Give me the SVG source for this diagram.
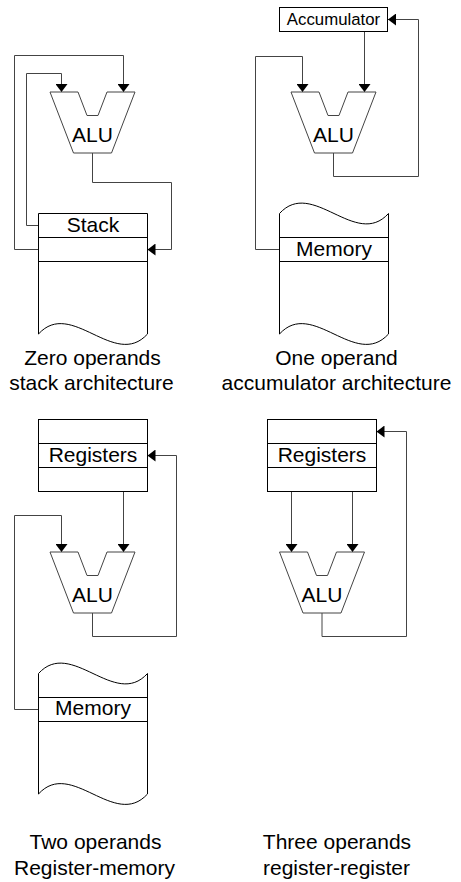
<svg xmlns="http://www.w3.org/2000/svg" width="461" height="882" viewBox="0 0 461 882">
<style>
.box{fill:#fff;stroke:#000;stroke-width:1}
.alu{fill:#fff;stroke:#444;stroke-width:1}
.band{stroke:#000;stroke-width:1;fill:none}
.conn{fill:none;stroke:#444;stroke-width:1}
.lbl{font-family:"Liberation Sans",Arial,sans-serif;font-size:21px;fill:#000;text-anchor:middle}
.acc{font-size:16.8px}
</style>
<defs>
<marker id="arr" viewBox="0 0 8 12" refX="8" refY="6" markerWidth="8" markerHeight="12" markerUnits="userSpaceOnUse" orient="auto">
<path d="M0,0 L8,6 L0,12 Z" fill="#000"/>
</marker>
<path id="aluShape" d="M0,0 H28 L37,23.5 H48 L57,0 H85 L61.5,61 H23.5 Z"/>
</defs>

<g id="connectors" class="conn" marker-end="url(#arr)">
<path d="M38.5,225.5 H26.5 V73.5 H61.5 V92"/>
<path d="M38.5,249.5 H14.5 V55.5 H123.5 V92"/>
<path d="M92.5,153 V182.5 H171.5 V249.5 H147.5"/>
<path d="M364.5,31.5 V92"/>
<path d="M279.5,249.5 H255.5 V56.5 H302.5 V92"/>
<path d="M333.5,153 V176.5 H418.5 V19.5 H388"/>
<path d="M123.5,467.5 V552"/>
<path d="M38.5,709.5 H14.5 V515.5 H61.5 V552"/>
<path d="M92.5,613 V636.5 H176.5 V455.5 H147.5"/>
<path d="M291.5,491.5 V552"/>
<path d="M352.5,467.5 V552"/>
<path d="M322,613 V636.5 H406.5 V431.5 H376.5"/>
</g>

<g id="stack">
<path class="box" d="M38.5,213.5 H147.5 V334 C114.8,370 71.2,298 38.5,334 Z"/>
<path class="band" d="M38.5,237.5 H147.5 M38.5,261.5 H147.5"/>
<text class="lbl" x="93" y="232">Stack</text>
</g>
<g id="alu1">
<use href="#aluShape" class="alu" transform="translate(50,92)"/>
<text class="lbl" x="92.5" y="142">ALU</text>
</g>

<g id="accumulator">
<rect class="box" x="279.5" y="7.5" width="108" height="24"/>
<text class="lbl acc" x="333.5" y="25">Accumulator</text>
</g>
<g id="alu2">
<use href="#aluShape" class="alu" transform="translate(291,92)"/>
<text class="lbl" x="333.5" y="142">ALU</text>
</g>
<g id="memory1">
<path class="box" d="M279.5,213.5 C312.2,177.5 355.8,249.5 388.5,213.5 V334 C355.8,370 312.2,298 279.5,334 Z"/>
<path class="band" d="M279.5,237.5 H388.5 M279.5,261.5 H388.5"/>
<text class="lbl" x="334" y="256">Memory</text>
</g>

<g id="registers1">
<rect class="box" x="38.5" y="419.5" width="109" height="72"/>
<path class="band" d="M38.5,443.5 H147.5 M38.5,467.5 H147.5"/>
<text class="lbl" x="93" y="462">Registers</text>
</g>
<g id="alu3">
<use href="#aluShape" class="alu" transform="translate(50,552)"/>
<text class="lbl" x="92.5" y="602">ALU</text>
</g>
<g id="memory2">
<path class="box" d="M38.5,673.5 C71.2,637.5 114.8,709.5 147.5,673.5 V794 C114.8,830 71.2,758 38.5,794 Z"/>
<path class="band" d="M38.5,697.5 H147.5 M38.5,721.5 H147.5"/>
<text class="lbl" x="93" y="715">Memory</text>
</g>

<g id="registers2">
<rect class="box" x="267.5" y="419.5" width="109" height="72"/>
<path class="band" d="M267.5,443.5 H376.5 M267.5,467.5 H376.5"/>
<text class="lbl" x="322" y="462">Registers</text>
</g>
<g id="alu4">
<use href="#aluShape" class="alu" transform="translate(279.5,552)"/>
<text class="lbl" x="322" y="602">ALU</text>
</g>

<g id="captions">
<text class="lbl" x="92.5" y="365">Zero operands</text>
<text class="lbl" x="91.5" y="390">stack architecture</text>
<text class="lbl" x="336.5" y="365">One operand</text>
<text class="lbl" x="336.5" y="390">accumulator architecture</text>
<text class="lbl" x="95.5" y="849">Two operands</text>
<text class="lbl" x="94.5" y="875">Register-memory</text>
<text class="lbl" x="337" y="849">Three operands</text>
<text class="lbl" x="336.5" y="875">register-register</text>
</g>
</svg>
